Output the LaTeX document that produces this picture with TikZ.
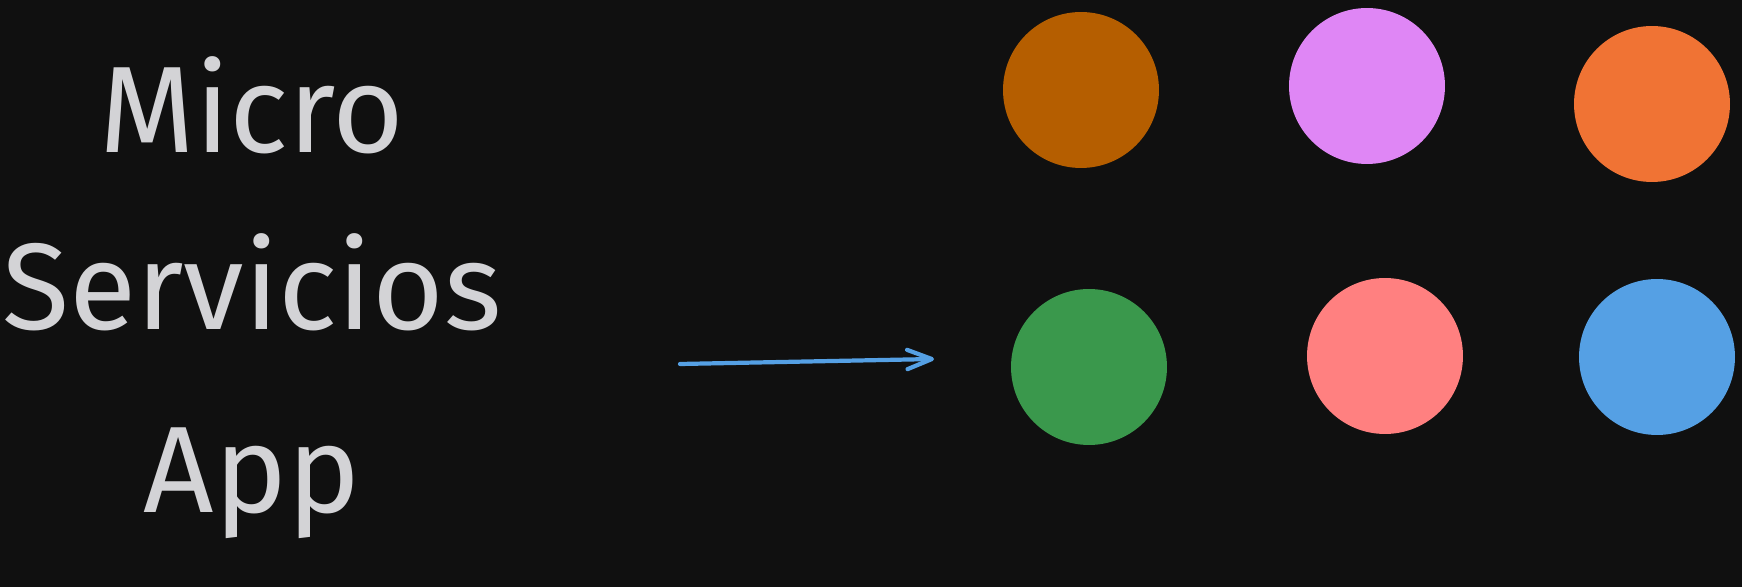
\documentclass[tikz,border=0pt]{standalone}
\usepackage{fontspec}
\setmainfont{Fira Sans}
\usetikzlibrary{arrows.meta}
\definecolor{bg}{HTML}{101010}
\definecolor{txt}{HTML}{D3D3D6}
\definecolor{cbrown}{HTML}{B55E00}
\definecolor{cpink}{HTML}{DF86F5}
\definecolor{corange}{HTML}{F07334}
\definecolor{cgreen}{HTML}{3A984C}
\definecolor{csalmon}{HTML}{FF8080}
\definecolor{cblue}{HTML}{55A0E4}
\tikzset{
  label/.style={text=txt, font=\fontsize{70}{84}\selectfont, anchor=base, inner sep=0pt},
  dot/.style={circle, fill=#1, draw=none, minimum size=3.12cm, inner sep=0pt},
  conn/.style={draw=cblue, line width=2.4pt, line cap=round, line join=round,
    -{Straight Barb[length=14pt,width=11pt,line cap=round,line join=round]}}
}
\begin{document}
\begin{tikzpicture}[x=0.02cm,y=-0.02cm]
\useasboundingbox (0,0) rectangle (1742,587);
\fill[bg] (0,0) rectangle (1742,587);
\node[label] (micro) at (252,153) {Micro};
\node[label] (serv) at (252,330) {Servicios};
\node[label] (app) at (252,513) {App};
\node[dot=cbrown] (c1) at (1081,90) {};
\node[dot=cpink] (c2) at (1367,86) {};
\node[dot=corange] (c3) at (1652,104) {};
\node[dot=cgreen] (c4) at (1089,367) {};
\node[dot=csalmon] (c5) at (1385,356) {};
\node[dot=cblue] (c6) at (1657,357) {};
\coordinate (a1) at (680,364);
\coordinate (a2) at (934,359);
\draw[conn] (a1) -- (a2);
\end{tikzpicture}
\end{document}
